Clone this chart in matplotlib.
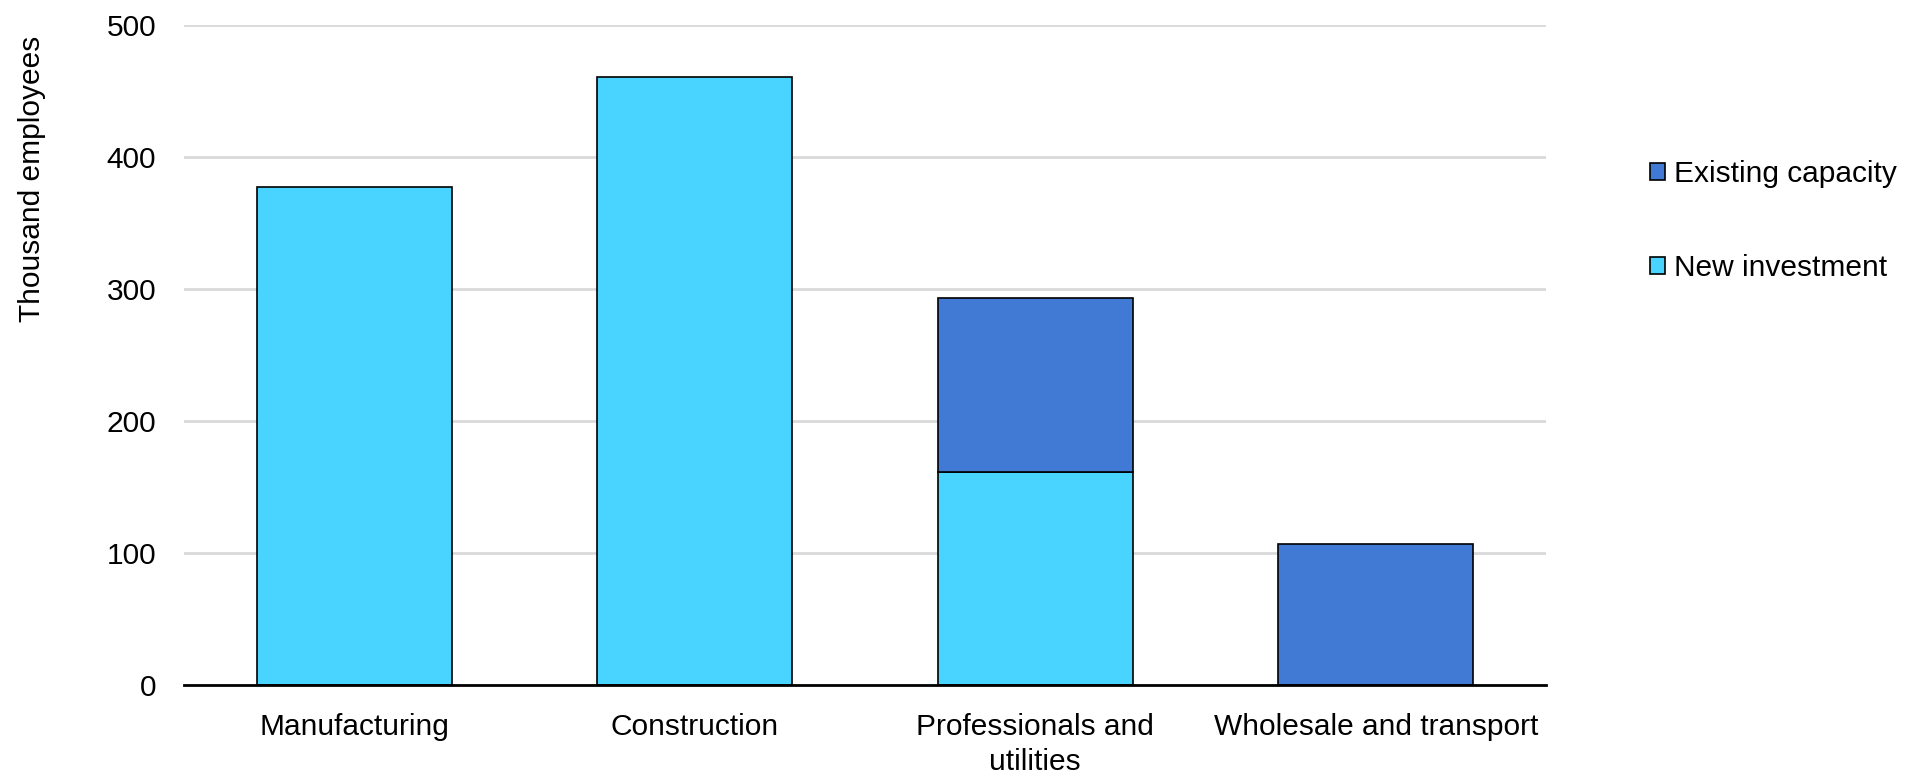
import matplotlib
matplotlib.use("Agg")
import matplotlib.pyplot as plt
from matplotlib.patches import Patch
import numpy as np

categories = ["Manufacturing", "Construction", "Professionals and\nutilities", "Wholesale and transport"]
new_investment = [377, 460, 161, 0]
existing_capacity = [0, 0, 132, 107]

c_new = "#49D4FF"
c_exist = "#407AD4"

plt.rcParams["font.family"] = ["Liberation Sans", "DejaVu Sans"]
plt.rcParams["font.size"] = 21.5

fig = plt.figure(figsize=(19.21, 7.76), dpi=100)
ax = fig.add_axes([0.0958, 0.1173, 0.709, 0.8511])

x = np.arange(len(categories))
w = 0.573
new = np.array(new_investment, dtype=float)
ex = np.array(existing_capacity, dtype=float)
m_new = new > 0
m_ex = ex > 0
ax.bar(x[m_new], new[m_new], width=w, color=c_new, edgecolor="black", linewidth=1.2, zorder=3)
ax.bar(x[m_ex], ex[m_ex], bottom=new[m_ex], width=w, color=c_exist, edgecolor="black", linewidth=1.2, zorder=3)

ax.set_xlim(-0.5, len(categories) - 0.5)
ax.set_ylim(0, 500)
ax.set_yticks([0, 100, 200, 300, 400, 500])
ax.set_xticks(x)
ax.set_xticklabels(categories, linespacing=1.35)
ax.yaxis.grid(True, color="#D9D9D9", linewidth=2, zorder=0)
ax.set_axisbelow(True)
for s in ["left", "right", "top"]:
    ax.spines[s].set_visible(False)
ax.spines["bottom"].set_linewidth(2)
ax.spines["bottom"].set_zorder(4)
ax.tick_params(axis="y", length=0, pad=20)
ax.tick_params(axis="x", length=0, pad=20)

fig.text(0.0165, 1 - 179 / 776, "Thousand employees", rotation=90, ha="center", va="center")

handles = [Patch(facecolor=c_exist, edgecolor="black", linewidth=1.2, label="Existing capacity"),
           Patch(facecolor=c_new, edgecolor="black", linewidth=1.2, label="New investment")]
fig.legend(handles=handles, loc="upper left", bbox_to_anchor=(1650 / 1921, 1 - 160 / 776),
           frameon=False, handlelength=0.5, handleheight=0.5, handletextpad=0.3,
           labelspacing=2.2, borderaxespad=0, borderpad=0)

fig.savefig("out.png", dpi=100)
